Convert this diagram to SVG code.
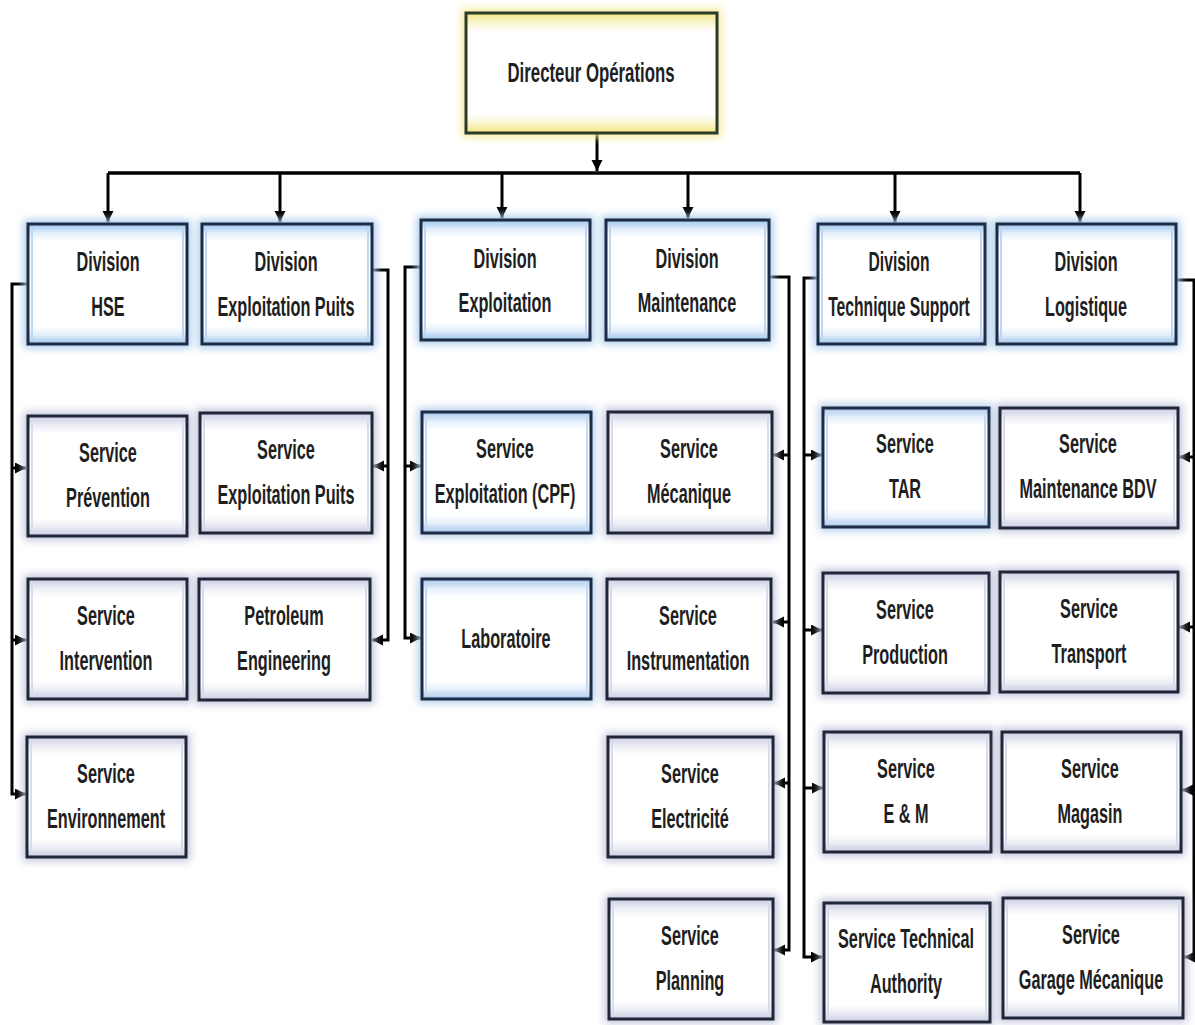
<svg xmlns="http://www.w3.org/2000/svg" width="1195" height="1025" viewBox="0 0 1195 1025">
<defs>
<style>
.t{font-family:"Liberation Sans",Arial,sans-serif;font-weight:bold;font-size:28px;text-anchor:middle;fill:#1e1e1e}
.gl{filter:url(#blur)}
.top .gl{fill:#f3ea92}
.top .bx{fill:url(#gTop);stroke:#2c3a2c;stroke-width:3}
.div .gl{fill:#a9cbee}
.div .bx{fill:url(#gDiv);stroke:#1d2b45;stroke-width:3}
.div .in{fill:none;stroke:#bcd7f2;stroke-width:2}
.svc .gl{fill:#bfc2da}
.svc .bx{fill:url(#gSvc);stroke:#1f2638;stroke-width:3}
.svc .in{fill:none;stroke:#d9dbea;stroke-width:2}
.svb .gl{fill:#b3cdea}
.svb .bx{fill:url(#gDiv);stroke:#1d2b45;stroke-width:3}
.svb .in{fill:none;stroke:#c6dbf2;stroke-width:2}
.c{fill:none;stroke:#000;stroke-width:3}
.bus{stroke-width:3.5}
.a{marker-end:url(#arr)}
</style>
<filter id="blur" x="-20%" y="-30%" width="140%" height="160%"><feGaussianBlur stdDeviation="4"/></filter>
<linearGradient id="gTop" x1="0" y1="0" x2="0" y2="1"><stop offset="0" stop-color="#f1e67e"/><stop offset="0.09" stop-color="#fbf7d6"/><stop offset="0.16" stop-color="#fff"/><stop offset="0.84" stop-color="#fff"/><stop offset="0.91" stop-color="#fbf7d6"/><stop offset="1" stop-color="#f1e67e"/></linearGradient>
<linearGradient id="gDiv" x1="0" y1="0" x2="0" y2="1"><stop offset="0" stop-color="#9ec3ec"/><stop offset="0.08" stop-color="#e6f0fb"/><stop offset="0.15" stop-color="#fff"/><stop offset="0.85" stop-color="#fff"/><stop offset="0.92" stop-color="#e6f0fb"/><stop offset="1" stop-color="#9ec3ec"/></linearGradient>
<linearGradient id="gSvc" x1="0" y1="0" x2="0" y2="1"><stop offset="0" stop-color="#c9cbe0"/><stop offset="0.08" stop-color="#eeeff6"/><stop offset="0.15" stop-color="#fff"/><stop offset="0.85" stop-color="#fff"/><stop offset="0.92" stop-color="#eeeff6"/><stop offset="1" stop-color="#c9cbe0"/></linearGradient>
<marker id="arr" markerUnits="userSpaceOnUse" markerWidth="12" markerHeight="12" refX="11" refY="5.5" orient="auto"><path d="M0,0 L11,5.5 L0,11 z" fill="#000"/></marker>
</defs>
<rect width="1195" height="1025" fill="#fff"/>

<g id="connectors">
<path class="c a" d="M597,133 V171"/>
<path class="c bus" d="M108,173 H1080"/>
<path class="c a" d="M108,173 V222"/>
<path class="c a" d="M280,173 V222"/>
<path class="c a" d="M502,173 V218"/>
<path class="c a" d="M688,173 V218"/>
<path class="c a" d="M895,173 V222"/>
<path class="c a" d="M1080,173 V222"/>
<path class="c a" d="M28,284 H12 V794 H26"/>
<path class="c a" d="M12,468 H26"/>
<path class="c a" d="M12,640 H26"/>
<path class="c a" d="M372,270 H388 V640 H372"/>
<path class="c a" d="M388,466 H373"/>
<path class="c a" d="M421,267 H405 V638 H421"/>
<path class="c a" d="M405,466 H421"/>
<path class="c a" d="M769,277 H789 V950 H774"/>
<path class="c a" d="M789,455 H773"/>
<path class="c a" d="M789,622 H773"/>
<path class="c a" d="M789,783 H774"/>
<path class="c a" d="M818,278 H804 V957 H822"/>
<path class="c a" d="M804,455 H822"/>
<path class="c a" d="M804,630 H822"/>
<path class="c a" d="M804,788 H823"/>
<path class="c a" d="M1176,280 H1194 V957 H1184"/>
<path class="c a" d="M1194,457 H1179"/>
<path class="c a" d="M1194,627 H1179"/>
<path class="c a" d="M1194,790 H1182"/>
</g>

<g id="directeur" class="top">
<rect class="gl" x="462" y="9" width="259" height="128"/>
<rect class="bx" x="466" y="13" width="251" height="120"/>
<text class="t" transform="translate(591,82) scale(0.6,1)">Directeur Opérations</text>
</g>

<g id="div-hse" class="div">
<rect class="gl" x="24" y="220" width="167" height="128"/>
<rect class="bx" x="28" y="224" width="159" height="120"/>
<rect class="in" x="32" y="228" width="151" height="112"/>
<text class="t" transform="translate(108,0) scale(0.58,1)"><tspan x="0" y="271">Division</tspan><tspan x="0" y="316">HSE</tspan></text>
</g>
<g id="div-exploitation-puits" class="div">
<rect class="gl" x="198" y="220" width="178" height="128"/>
<rect class="bx" x="202" y="224" width="170" height="120"/>
<rect class="in" x="206" y="228" width="162" height="112"/>
<text class="t" transform="translate(286,0) scale(0.58,1)"><tspan x="0" y="271">Division</tspan><tspan x="0" y="316">Exploitation Puits</tspan></text>
</g>
<g id="div-exploitation" class="div">
<rect class="gl" x="417" y="216" width="177" height="128"/>
<rect class="bx" x="421" y="220" width="169" height="120"/>
<rect class="in" x="425" y="224" width="161" height="112"/>
<text class="t" transform="translate(505,0) scale(0.58,1)"><tspan x="0" y="268">Division</tspan><tspan x="0" y="312">Exploitation</tspan></text>
</g>
<g id="div-maintenance" class="div">
<rect class="gl" x="602" y="216" width="171" height="128"/>
<rect class="bx" x="606" y="220" width="163" height="120"/>
<rect class="in" x="610" y="224" width="155" height="112"/>
<text class="t" transform="translate(687,0) scale(0.58,1)"><tspan x="0" y="268">Division</tspan><tspan x="0" y="312">Maintenance</tspan></text>
</g>
<g id="div-technique-support" class="div">
<rect class="gl" x="814" y="220" width="175" height="128"/>
<rect class="bx" x="818" y="224" width="167" height="120"/>
<rect class="in" x="822" y="228" width="159" height="112"/>
<text class="t" transform="translate(899,0) scale(0.56,1)"><tspan x="0" y="271">Division</tspan><tspan x="0" y="316">Technique Support</tspan></text>
</g>
<g id="div-logistique" class="div">
<rect class="gl" x="993" y="220" width="187" height="128"/>
<rect class="bx" x="997" y="224" width="179" height="120"/>
<rect class="in" x="1001" y="228" width="171" height="112"/>
<text class="t" transform="translate(1086,0) scale(0.58,1)"><tspan x="0" y="271">Division</tspan><tspan x="0" y="316">Logistique</tspan></text>
</g>

<g id="svc-prevention" class="svc">
<rect class="gl" x="24" y="412" width="167" height="128"/>
<rect class="bx" x="28" y="416" width="159" height="120"/>
<rect class="in" x="32" y="420" width="151" height="112"/>
<text class="t" transform="translate(108,0) scale(0.58,1)"><tspan x="0" y="462">Service</tspan><tspan x="0" y="507">Prévention</tspan></text>
</g>
<g id="svc-intervention" class="svc">
<rect class="gl" x="24" y="575" width="167" height="128"/>
<rect class="bx" x="28" y="579" width="159" height="120"/>
<rect class="in" x="32" y="583" width="151" height="112"/>
<text class="t" transform="translate(106,0) scale(0.58,1)"><tspan x="0" y="625">Service</tspan><tspan x="0" y="670">Intervention</tspan></text>
</g>
<g id="svc-environnement" class="svc">
<rect class="gl" x="23" y="733" width="167" height="128"/>
<rect class="bx" x="27" y="737" width="159" height="120"/>
<rect class="in" x="31" y="741" width="151" height="112"/>
<text class="t" transform="translate(106,0) scale(0.58,1)"><tspan x="0" y="783">Service</tspan><tspan x="0" y="828">Environnement</tspan></text>
</g>

<g id="svc-exploitation-puits" class="svc">
<rect class="gl" x="196" y="409" width="180" height="128"/>
<rect class="bx" x="200" y="413" width="172" height="120"/>
<rect class="in" x="204" y="417" width="164" height="112"/>
<text class="t" transform="translate(286,0) scale(0.58,1)"><tspan x="0" y="459">Service</tspan><tspan x="0" y="504">Exploitation Puits</tspan></text>
</g>
<g id="svc-petroleum" class="svc">
<rect class="gl" x="195" y="575" width="179" height="129"/>
<rect class="bx" x="199" y="579" width="171" height="121"/>
<rect class="in" x="203" y="583" width="163" height="113"/>
<text class="t" transform="translate(284,0) scale(0.58,1)"><tspan x="0" y="625">Petroleum</tspan><tspan x="0" y="670">Engineering</tspan></text>
</g>

<g id="svc-exploitation-cpf" class="svb">
<rect class="gl" x="418" y="408" width="177" height="129"/>
<rect class="bx" x="422" y="412" width="169" height="121"/>
<rect class="in" x="426" y="416" width="161" height="113"/>
<text class="t" transform="translate(505,0) scale(0.58,1)"><tspan x="0" y="458">Service</tspan><tspan x="0" y="503">Exploitation (CPF)</tspan></text>
</g>
<g id="svc-laboratoire" class="svb">
<rect class="gl" x="418" y="575" width="177" height="128"/>
<rect class="bx" x="422" y="579" width="169" height="120"/>
<rect class="in" x="426" y="583" width="161" height="112"/>
<text class="t" transform="translate(506,648) scale(0.58,1)">Laboratoire</text>
</g>

<g id="svc-mecanique" class="svc">
<rect class="gl" x="604" y="408" width="172" height="129"/>
<rect class="bx" x="608" y="412" width="164" height="121"/>
<rect class="in" x="612" y="416" width="156" height="113"/>
<text class="t" transform="translate(689,0) scale(0.58,1)"><tspan x="0" y="458">Service</tspan><tspan x="0" y="503">Mécanique</tspan></text>
</g>
<g id="svc-instrumentation" class="svc">
<rect class="gl" x="603" y="575" width="172" height="128"/>
<rect class="bx" x="607" y="579" width="164" height="120"/>
<rect class="in" x="611" y="583" width="156" height="112"/>
<text class="t" transform="translate(688,0) scale(0.58,1)"><tspan x="0" y="625">Service</tspan><tspan x="0" y="670">Instrumentation</tspan></text>
</g>
<g id="svc-electricite" class="svc">
<rect class="gl" x="604" y="733" width="173" height="128"/>
<rect class="bx" x="608" y="737" width="165" height="120"/>
<rect class="in" x="612" y="741" width="157" height="112"/>
<text class="t" transform="translate(690,0) scale(0.58,1)"><tspan x="0" y="783">Service</tspan><tspan x="0" y="828">Electricité</tspan></text>
</g>
<g id="svc-planning" class="svc">
<rect class="gl" x="605" y="895" width="172" height="128"/>
<rect class="bx" x="609" y="899" width="164" height="120"/>
<rect class="in" x="613" y="903" width="156" height="112"/>
<text class="t" transform="translate(690,0) scale(0.58,1)"><tspan x="0" y="945">Service</tspan><tspan x="0" y="990">Planning</tspan></text>
</g>

<g id="svc-tar" class="svb">
<rect class="gl" x="819" y="404" width="174" height="127"/>
<rect class="bx" x="823" y="408" width="166" height="119"/>
<rect class="in" x="827" y="412" width="158" height="111"/>
<text class="t" transform="translate(905,0) scale(0.58,1)"><tspan x="0" y="453">Service</tspan><tspan x="0" y="498">TAR</tspan></text>
</g>
<g id="svc-production" class="svc">
<rect class="gl" x="819" y="569" width="174" height="128"/>
<rect class="bx" x="823" y="573" width="166" height="120"/>
<rect class="in" x="827" y="577" width="158" height="112"/>
<text class="t" transform="translate(905,0) scale(0.58,1)"><tspan x="0" y="619">Service</tspan><tspan x="0" y="664">Production</tspan></text>
</g>
<g id="svc-em" class="svc">
<rect class="gl" x="820" y="728" width="175" height="128"/>
<rect class="bx" x="824" y="732" width="167" height="120"/>
<rect class="in" x="828" y="736" width="159" height="112"/>
<text class="t" transform="translate(906,0) scale(0.58,1)"><tspan x="0" y="778">Service</tspan><tspan x="0" y="823">E &amp; M</tspan></text>
</g>
<g id="svc-technical-authority" class="svc">
<rect class="gl" x="820" y="899" width="174" height="127"/>
<rect class="bx" x="824" y="903" width="166" height="119"/>
<rect class="in" x="828" y="907" width="158" height="111"/>
<text class="t" transform="translate(906,0) scale(0.58,1)"><tspan x="0" y="948">Service Technical</tspan><tspan x="0" y="993">Authority</tspan></text>
</g>

<g id="svc-maintenance-bdv" class="svc">
<rect class="gl" x="996" y="404" width="186" height="128"/>
<rect class="bx" x="1000" y="408" width="178" height="120"/>
<rect class="in" x="1004" y="412" width="170" height="112"/>
<text class="t" transform="translate(1088,0) scale(0.58,1)"><tspan x="0" y="453">Service</tspan><tspan x="0" y="498">Maintenance BDV</tspan></text>
</g>
<g id="svc-transport" class="svc">
<rect class="gl" x="996" y="568" width="186" height="128"/>
<rect class="bx" x="1000" y="572" width="178" height="120"/>
<rect class="in" x="1004" y="576" width="170" height="112"/>
<text class="t" transform="translate(1089,0) scale(0.58,1)"><tspan x="0" y="618">Service</tspan><tspan x="0" y="663">Transport</tspan></text>
</g>
<g id="svc-magasin" class="svc">
<rect class="gl" x="998" y="728" width="187" height="128"/>
<rect class="bx" x="1002" y="732" width="179" height="120"/>
<rect class="in" x="1006" y="736" width="171" height="112"/>
<text class="t" transform="translate(1090,0) scale(0.58,1)"><tspan x="0" y="778">Service</tspan><tspan x="0" y="823">Magasin</tspan></text>
</g>
<g id="svc-garage-mecanique" class="svc">
<rect class="gl" x="999" y="894" width="188" height="128"/>
<rect class="bx" x="1003" y="898" width="180" height="120"/>
<rect class="in" x="1007" y="902" width="172" height="112"/>
<text class="t" transform="translate(1091,0) scale(0.58,1)"><tspan x="0" y="944">Service</tspan><tspan x="0" y="989">Garage Mécanique</tspan></text>
</g>
</svg>
